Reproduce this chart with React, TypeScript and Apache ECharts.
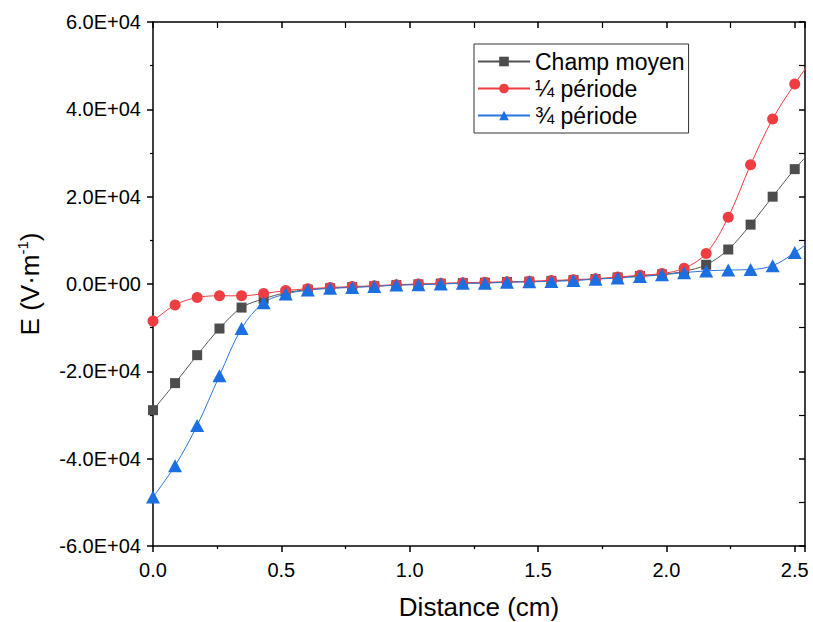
import React, { useEffect, useRef } from "react";
import * as echarts from "echarts";

// Distance (cm); last entry only continues the curves to the frame edge
const distance = [0, 0.086, 0.172, 0.259, 0.345, 0.431, 0.517, 0.603, 0.69, 0.776, 0.862, 0.948, 1.034, 1.121, 1.207, 1.293, 1.379, 1.466, 1.552, 1.638, 1.724, 1.81, 1.897, 1.983, 2.069, 2.155, 2.241, 2.328, 2.414, 2.5, 2.586];

const champMoyen = [-28900, -22700, -16300, -10200, -5400, -3400, -2000, -1300, -950, -700, -500, -250, -80, 80, 200, 300, 450, 550, 700, 900, 1150, 1500, 1850, 2200, 2900, 4400, 7900, 13600, 20000, 26300, 31800];
const quartPeriode = [-8500, -4800, -3100, -2700, -2700, -2200, -1500, -1100, -800, -600, -400, -150, 0, 150, 300, 400, 500, 650, 800, 1000, 1200, 1600, 2000, 2400, 3600, 7000, 15300, 27300, 37800, 45800, 53000];
const troisQuartPeriode = [-48800, -41600, -32400, -21000, -10200, -4300, -2300, -1400, -1000, -800, -550, -250, -150, 0, 150, 200, 400, 500, 600, 800, 1100, 1400, 1700, 2100, 2600, 3000, 3200, 3300, 4200, 7200, 11000];

const seriesNames = ["Champ moyen", "¼ période", "¾ période"];

function sci(v: number): string {
  if (v === 0) return "0.0E+00";
  const sign = v < 0 ? "-" : "";
  const a = Math.abs(v);
  const e = Math.floor(Math.log10(a) + 1e-9);
  const m = a / Math.pow(10, e);
  const es = (e < 0 ? "-" : "+") + String(Math.abs(e)).padStart(2, "0");
  return sign + m.toFixed(1) + "E" + es;
}

function build(values: number[]) {
  const last = distance.length - 1;
  return distance.map((x, i) =>
    i === last ? { value: [x, values[i]], symbol: "none" } : [x, values[i]]
  );
}

const FONT = "Liberation Sans, Arial, sans-serif";

export default function App() {
  const ref = useRef<HTMLDivElement>(null);
  useEffect(() => {
    if (!ref.current) return;
    const chart = echarts.init(ref.current, null, { renderer: "svg" });
    const axisLine = { show: true, onZero: false, lineStyle: { color: "#000", width: 1.5 } };
    chart.setOption({
      animation: false,
      backgroundColor: "#fff",
      textStyle: { fontFamily: FONT },
      grid: { left: 153, right: 8, top: 22, bottom: 76, containLabel: false, outerBoundsMode: "none" },
      legend: {
        orient: "vertical",
        left: 474,
        top: 44,
        padding: [6, 4, 6, 3],
        itemGap: 4,
        itemWidth: 52,
        itemHeight: 12,
        borderColor: "#333",
        borderWidth: 1,
        textStyle: { fontSize: 23, color: "#000", fontFamily: FONT },
        data: seriesNames,
      },
      xAxis: [
        {
          type: "value",
          position: "bottom",
          min: 0,
          max: 2.54,
          interval: 0.5,
          name: "Distance (cm)",
          nameLocation: "middle",
          nameGap: 48,
          nameTextStyle: { fontSize: 26, color: "#000", fontFamily: FONT },
          axisLine,
          axisTick: { show: true, length: 6, lineStyle: { color: "#000", width: 1.5 } },
          minorTick: { show: true, splitNumber: 2, length: 3, lineStyle: { color: "#000", width: 1.2 } },
          axisLabel: {
            fontSize: 20,
            color: "#000",
            margin: 14,
            showMaxLabel: false,
            formatter: (v: number) => v.toFixed(1),
          },
          splitLine: { show: false },
        },
        {
          type: "value",
          position: "top",
          min: 0,
          max: 2.54,
          interval: 0.5,
          axisLine,
          axisTick: { show: true, inside: true, length: 6, lineStyle: { color: "#000", width: 1.5 } },
          minorTick: { show: true, splitNumber: 2, length: 6, lineStyle: { color: "#000", width: 1.2 } },
          axisLabel: { show: false },
          splitLine: { show: false },
        },
      ],
      yAxis: [
        {
          type: "value",
          position: "left",
          min: -60000,
          max: 60000,
          interval: 20000,
          name: "{a|E (V·m}{s|-1}{a|)}",
          nameLocation: "middle",
          nameGap: 108,
          nameRotate: 90,
          nameTextStyle: {
            rich: {
              a: { fontSize: 26, color: "#000", fontFamily: FONT, lineHeight: 30 },
              s: { fontSize: 15, color: "#000", fontFamily: FONT, verticalAlign: "top", lineHeight: 30 },
            },
          },
          axisLine,
          axisTick: { show: true, length: 6, lineStyle: { color: "#000", width: 1.5 } },
          minorTick: { show: true, splitNumber: 2, length: 3, lineStyle: { color: "#000", width: 1.2 } },
          axisLabel: { fontSize: 20, color: "#000", margin: 12, formatter: (v: number) => sci(v) },
          splitLine: { show: false },
        },
        {
          type: "value",
          position: "right",
          min: -60000,
          max: 60000,
          interval: 20000,
          axisLine,
          axisTick: { show: true, inside: true, length: 6, lineStyle: { color: "#000", width: 1.5 } },
          minorTick: { show: true, inside: true, splitNumber: 2, length: 6, lineStyle: { color: "#000", width: 1.2 } },
          axisLabel: { show: false },
          splitLine: { show: false },
        },
      ],
      series: [
        {
          name: seriesNames[0],
          type: "line",
          data: build(champMoyen),
          smooth: 0.35,
          symbol: "rect",
          symbolSize: 10,
          itemStyle: { color: "#4d4d4d" },
          lineStyle: { color: "#555", width: 1 },
        },
        {
          name: seriesNames[1],
          type: "line",
          data: build(quartPeriode),
          smooth: 0.35,
          symbol: "circle",
          symbolSize: 11,
          itemStyle: { color: "#ef3e42" },
          lineStyle: { color: "#ef3e42", width: 1 },
        },
        {
          name: seriesNames[2],
          type: "line",
          data: build(troisQuartPeriode),
          smooth: 0.35,
          symbol: "triangle",
          symbolSize: [14, 13],
          itemStyle: { color: "#1b6fe0" },
          lineStyle: { color: "#2a76dc", width: 1 },
        },
      ],
    });
    return () => chart.dispose();
  }, []);
  return (
    <div
      ref={ref}
      style={{ position: "fixed", left: 0, top: 0, width: 813, height: 622, background: "#fff" }}
    />
  );
}
